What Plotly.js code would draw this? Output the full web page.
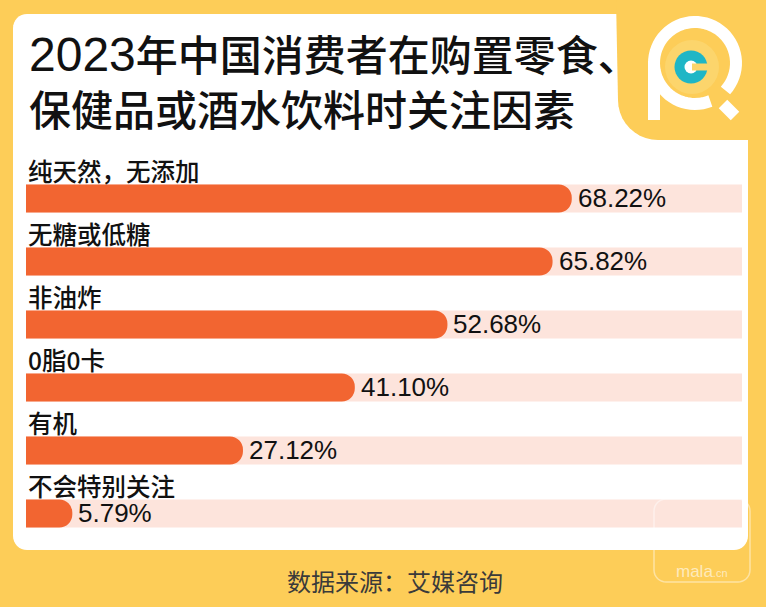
<!DOCTYPE html>
<html>
<head>
<meta charset="utf-8">
<script src="https://cdn.plot.ly/plotly-3.0.1.min.js"></script>
<style>
html,body{margin:0;padding:0;background:#FDCD58;}
#chart{width:766px;height:607px;}
</style>
</head>
<body>
<div id="chart"></div>
<script>
// ---- data ----
const categories = ["纯天然，无添加", "无糖或低糖", "非油炸", "0脂0卡", "有机", "不会特别关注"];
const shares = [68.22, 65.82, 52.68, 41.10, 27.12, 5.79];
const valueLabels = ["68.22%", "65.82%", "52.68%", "41.10%", "27.12%", "5.79%"];
const titleYear = "2023";
const titleLine1 = "年中国消费者在购置零食、";
const titleLine2 = "保健品或酒水饮料时关注因素";
const sourceText = "数据来源：艾媒咨询";

// ---- layout constants ----
const W = 766, H = 607;
const ML = 26, MR = 24, MT = 167, MB = 62;
const PW = W - ML - MR, PH = H - MT - MB;
const XMAX = 89.5;     // axis max (track length)
const PAD = 3;         // hides the rounded left end of bars outside plot area
const YELLOW = "#FDCD58", ORANGE = "#F26531", TRACK = "#FDE4DC";

const px = x => (x - ML) / PW;
const py = y => (H - MB - y) / PH;

function rectPath(x0, y0, x1, y1) {
  return `M${px(x0)},${py(y0)} L${px(x1)},${py(y0)} L${px(x1)},${py(y1)} L${px(x0)},${py(y1)} Z`;
}
function roundRectPath(x0, y0, x1, y1, r) {
  const pts = [];
  const corner = (cx, cy, a0) => {
    for (let i = 0; i <= 8; i++) {
      const a = (a0 + i * 90 / 8) * Math.PI / 180;
      pts.push([cx + r * Math.cos(a), cy + r * Math.sin(a)]);
    }
  };
  corner(x1 - r, y0 + r, 270);
  corner(x1 - r, y1 - r, 0);
  corner(x0 + r, y1 - r, 90);
  corner(x0 + r, y0 + r, 180);
  return "M" + pts.map(p => `${px(p[0])},${py(p[1])}`).join(" L") + " Z";
}
function cutoutPath(x0, y1, r) {
  const pts = [[x0 - 2, -2], [W + 2, -2], [W + 2, y1], [x0 + r, y1]];
  for (let i = 0; i <= 10; i++) {
    const a = (90 + i * 9) * Math.PI / 180;
    pts.push([x0 + r + r * Math.cos(a), y1 - r + r * Math.sin(a)]);
  }
  return "M" + pts.map(p => `${px(p[0])},${py(p[1])}`).join(" L") + " Z";
}
function arcPath(cx, cy, r, a0, a1) {
  const pts = [];
  const n = 60;
  for (let i = 0; i <= n; i++) {
    const a = (a0 + (a1 - a0) * i / n) * Math.PI / 180;
    pts.push([cx + r * Math.cos(a), cy - r * Math.sin(a)]);
  }
  return "M" + pts.map(p => `${px(p[0])},${py(p[1])}`).join(" L");
}
function circle(cx, cy, r, color) {
  return {type: "circle", xref: "paper", yref: "paper", layer: "below",
    x0: px(cx - r), x1: px(cx + r), y0: py(cy + r), y1: py(cy - r),
    fillcolor: color, line: {width: 0}};
}
function boxPath(cx, cy, w, h, ang) {
  const a = ang * Math.PI / 180;
  const c = Math.cos(a), s = Math.sin(a);
  const corners = [[-w/2,-h/2],[w/2,-h/2],[w/2,h/2],[-w/2,h/2]].map(([u,v]) => [cx + u*c - v*s, cy + u*s + v*c]);
  return "M" + corners.map(p => `${px(p[0])},${py(p[1])}`).join(" L") + " Z";
}

const shapes = [
  {type: "path", xref: "paper", yref: "paper", layer: "below", path: roundRectPath(13, 14, 748, 550, 14), fillcolor: "#FFFFFF", line: {width: 0}},
  {type: "path", xref: "paper", yref: "paper", layer: "below", path: cutoutPath(618, 140, 40), fillcolor: YELLOW, line: {width: 0}},
  // logo
  circle(692, 67, 27, "#FCD56C"),
  {type: "path", xref: "paper", yref: "paper", layer: "below", path: arcPath(695, 63, 41, -42, 292), line: {color: "#FFFFFF", width: 12}},
  {type: "path", xref: "paper", yref: "paper", layer: "below", path: rectPath(648, 61, 660, 120), fillcolor: "#FFFFFF", line: {width: 0}},
  {type: "path", xref: "paper", yref: "paper", layer: "below", path: boxPath(729, 110, 17, 12, 45), fillcolor: "#FFFFFF", line: {width: 0}},
  circle(691, 67, 16.5, "#1FB6C6"),
  circle(691, 67, 6.5, "#FFFFFF"),
  {type: "path", xref: "paper", yref: "paper", layer: "below", path: rectPath(692, 63.5, 709, 70.5), fillcolor: "#FCD56C", line: {width: 0}},
  // watermark box
  {type: "path", xref: "paper", yref: "paper", layer: "above", path: roundRectPath(654, 499, 750, 582, 12), fillcolor: "rgba(0,0,0,0)", line: {color: "rgba(255,255,255,0.45)", width: 1.5}}
];

const trackTrace = {
  type: "bar", orientation: "h",
  y: categories, x: categories.map(() => XMAX + PAD), base: -PAD,
  marker: {color: TRACK}, hoverinfo: "skip", showlegend: false
};
const barTrace = {
  type: "bar", orientation: "h",
  y: categories, x: shares.map(v => v + PAD), base: -PAD,
  customdata: shares, hovertemplate: "%{y}: %{customdata}%<extra></extra>",
  marker: {color: ORANGE, cornerradius: 14}, showlegend: false
};

const annotations = [];
categories.forEach((c, i) => {
  annotations.push({
    xref: "paper", yref: "y", x: 0, y: c, xanchor: "left", yanchor: "middle",
    yshift: 28, xshift: 0, showarrow: false, text: c,
    font: {family: "Noto Sans CJK SC", size: 24.5, weight: 500, color: "#111111"}
  });
  annotations.push({
    xref: "x", yref: "y", x: shares[i], y: c, xanchor: "left", yanchor: "middle",
    xshift: 4, yshift: 1, showarrow: false, text: valueLabels[i],
    font: {family: "Liberation Sans", size: 26, color: "#111111"}
  });
});
annotations.push({
  xref: "paper", yref: "paper", x: px(395), y: py(580), xanchor: "center", yanchor: "middle",
  showarrow: false, text: sourceText,
  font: {family: "Noto Sans CJK SC", size: 24, color: "#3A3A3A"}
});
annotations.push({
  xref: "paper", yref: "paper", x: px(702), y: py(571), xanchor: "center", yanchor: "middle",
  showarrow: false, text: "mala<span style='font-size:11px'>.cn</span>",
  font: {family: "Liberation Sans", size: 17, color: "rgba(255,255,255,0.6)"}
});

const titleText = "<span style=\"font-family:'Liberation Sans';font-size:48px\">" + titleYear + "</span>" +
  titleLine1 + "<br>" + titleLine2;

const layout = {
  width: W, height: H,
  margin: {l: ML, r: MR, t: MT, b: MB, pad: 0},
  paper_bgcolor: YELLOW, plot_bgcolor: "rgba(0,0,0,0)",
  barmode: "overlay", bargap: 0.556,
  title: {
    text: titleText, xref: "container", yref: "container",
    x: 29 / W, xanchor: "left", y: 1 - 71 / H, yanchor: "middle",
    font: {family: "Noto Sans CJK SC", size: 42, weight: 500, color: "#111111"}
  },
  xaxis: {range: [0, XMAX], showgrid: false, zeroline: false, showticklabels: false, showline: false, fixedrange: true},
  yaxis: {type: "category", range: [categories.length - 0.5, -0.5], autorange: false, showgrid: false, zeroline: false, showticklabels: false, showline: false, fixedrange: true},
  shapes: shapes,
  annotations: annotations
};

Plotly.newPlot("chart", [trackTrace, barTrace], layout, {displayModeBar: false, staticPlot: true});
</script>
</body>
</html>
